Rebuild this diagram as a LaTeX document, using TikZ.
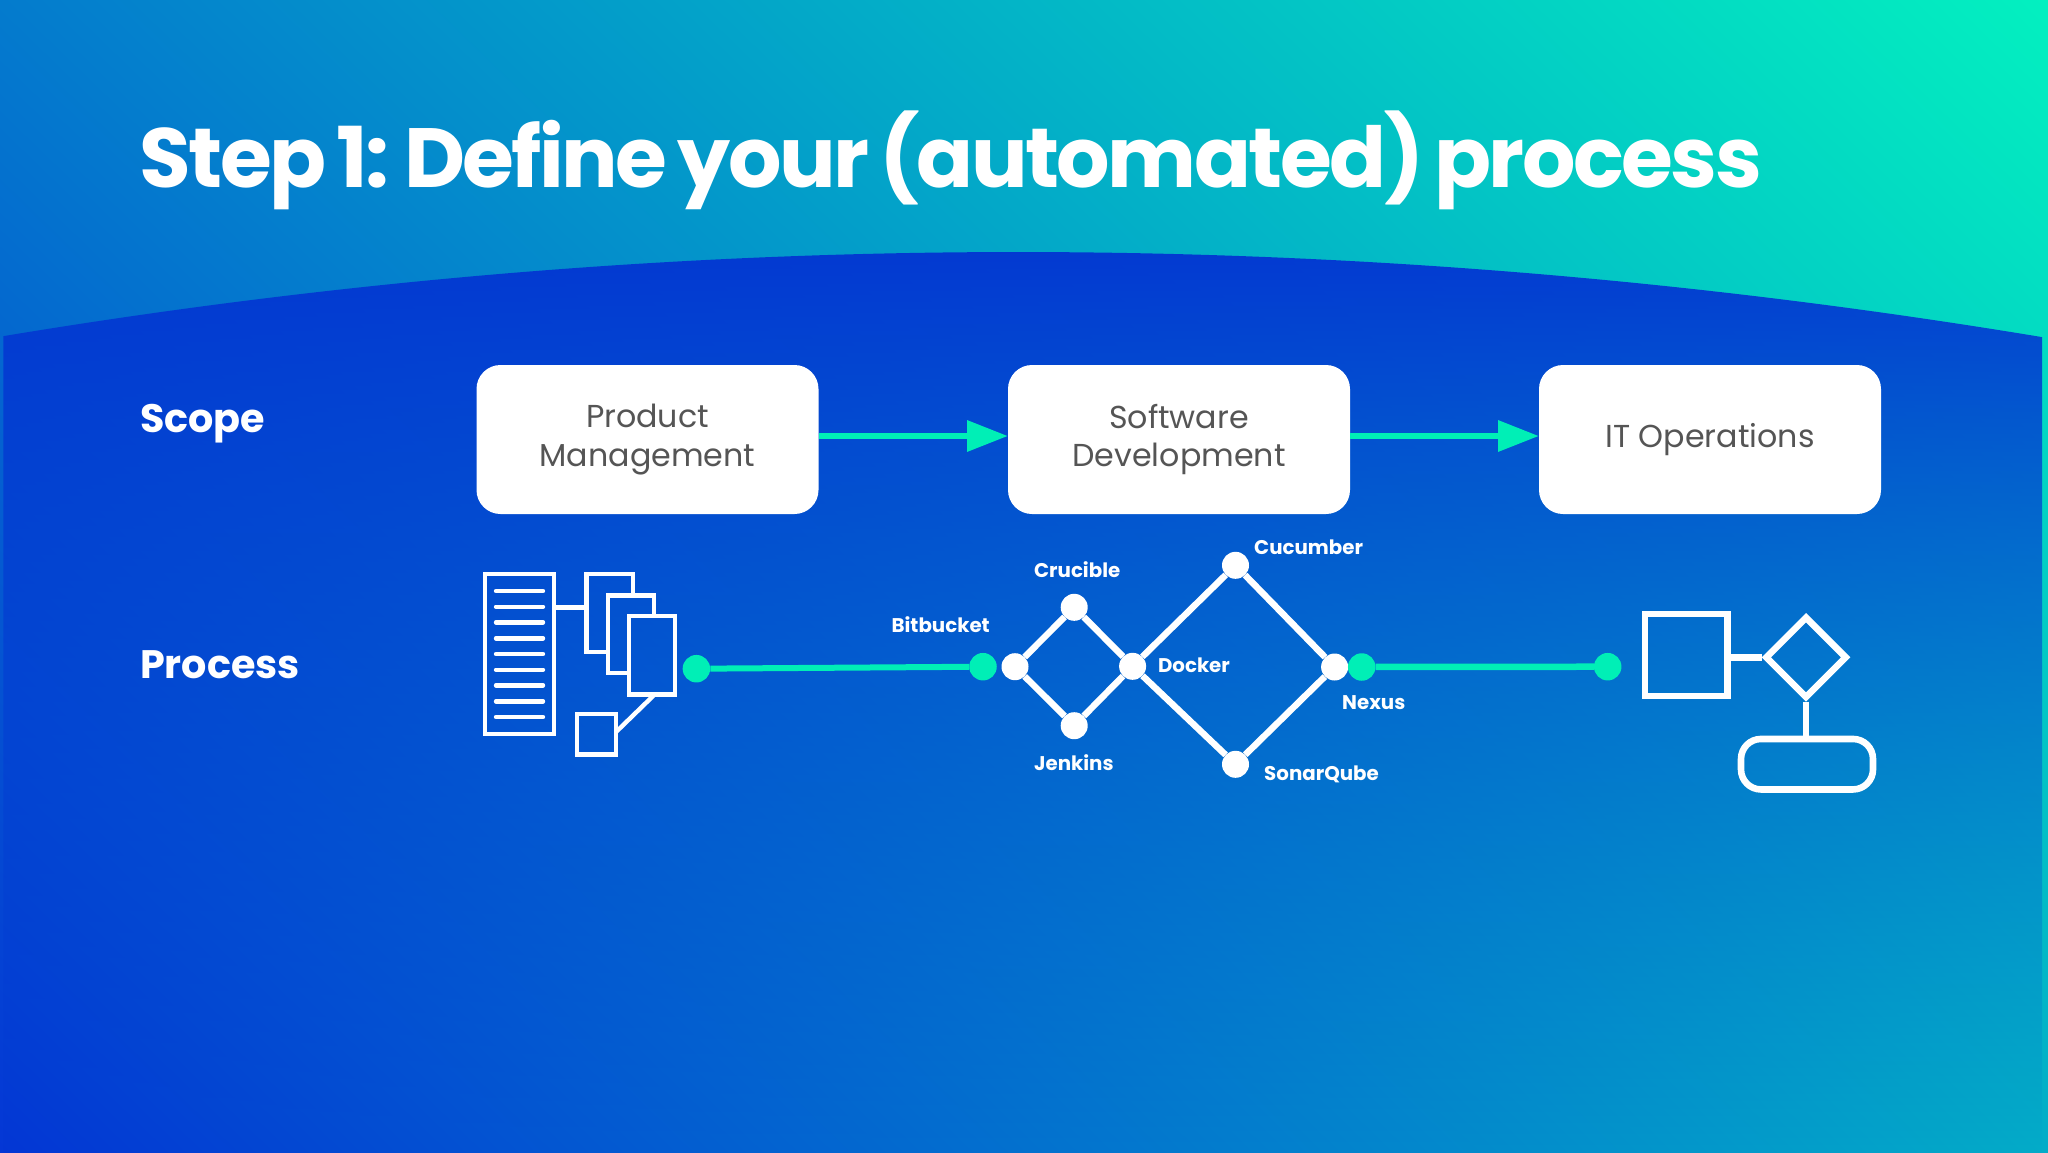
\documentclass[tikz,border=0pt]{standalone}
\usepackage{fontspec}
\setmainfont{Poppins}[BoldFont={Poppins Bold}]
\newfontfamily\titlefont{Poppins Bold}[LetterSpace=-3,WordSpace=0.65]
\usetikzlibrary{arrows.meta,shapes.geometric,calc,fadings}
\definecolor{bgstart}{HTML}{0437D5}
\definecolor{bgend}{HTML}{03F0C0}
\definecolor{domeblue}{HTML}{0336D2}
\definecolor{mint}{HTML}{00EFB6}
\definecolor{boxtext}{HTML}{555555}
\pgfdeclareverticalshading{bgsh}{3000pt}{
 color(0pt)=(bgstart);
 color(276pt)=(bgstart);
 color(2524pt)=(bgend);
 color(2800pt)=(bgend)}
\tikzfading[name=domefade,top color=transparent!0,bottom color=transparent!100]
\tikzset{
 x=1pt,y=-1pt,
 lbl/.style={text=white,font=\bfseries\fontsize{19.8}{24}\selectfont,anchor=base west,inner sep=0pt},
 side/.style={text=white,font=\bfseries\fontsize{39.7}{44}\selectfont,anchor=base west,inner sep=0pt},
 box/.style={fill=white,rounded corners=24pt,minimum width=342pt,minimum height=149pt,inner sep=0pt,align=center,text=boxtext,font=\fontsize{31.7}{38.5}\selectfont},
 flow/.style={draw=mint,line width=6.5pt,-{Triangle[length=41pt,width=30pt]}},
 gdot/.style={circle,fill=mint,minimum size=27.5pt,inner sep=0pt},
 wdot/.style={circle,fill=white,minimum size=27pt,inner sep=0pt},
 wline/.style={draw=white,line width=6.5pt},
 icon/.style={draw=white,line width=4.4pt,inner sep=0pt,miter limit=10},
 icon2/.style={draw=white,line width=6.6pt,inner sep=0pt},
 rule/.style={draw=white,line width=4.4pt,line cap=round},
}
\begin{document}
\begin{tikzpicture}
\useasboundingbox (0,0) rectangle (2048,1152);
\begin{scope}
 \clip (0,0) rectangle (2048,1152);
 \node[inner sep=0pt,rotate=-44] at (1024,576) {\pgfuseshading{bgsh}};
\end{scope}
\fill[domeblue,path fading=domefade] (4,334) .. controls (684,221) and (1364,222) .. (2044,335) -- (2044,1152) -- (4,1152) -- cycle;
\node[text=white,font=\titlefont\fontsize{84}{96}\selectfont,anchor=base west,inner sep=0pt] (title) at (139,187) {Step 1: Define your (automated) process};
\node[side] (scope) at (140,432) {Scope};
\node[side] (process) at (140,678) {Process};

\node[box] (pm) at (647.5,439.5) {Product\\Management};
\node[box] (sd) at (1179,439.5) {Software\\Development};
\node[box] (it) at (1710,439.5) {IT Operations};
\coordinate (pmr) at (818.5,436);\coordinate (sdl) at (1008,436);
\coordinate (sdr) at (1350,436);\coordinate (itl) at (1539,436);
\draw[flow] (pmr) -- (sdl);
\draw[flow] (sdr) -- (itl);

% left icon
\node[icon,minimum width=69pt,minimum height=160pt] (doc) at (519.5,654) {};
\foreach \yy in {591,606.7,622.3,638.3,654,669.7,685.3,701.3,717}
  \draw[rule] (496,\yy) -- (543,\yy);
\coordinate (cardtwo) at (586.5,607.3);
\coordinate (docr) at (554,607.3);
\draw[icon] (docr) -- (cardtwo);
\draw[icon] (606,652) -- (586.5,652) -- (586.5,574) -- (633,574) -- (633,595.5);
\draw[icon] (627,673) -- (608,673) -- (608,595.5) -- (654,595.5) -- (654,616);
\node[icon,minimum width=46pt,minimum height=78.5pt] (cardthree) at (652,655.3) {};
\node[icon,minimum width=39pt,minimum height=40.5pt] (small) at (596.5,734.3) {};
\coordinate (cardb) at (654.6,694.5);
\coordinate (smallr) at (616,732);
\draw[icon] (cardb) -- (smallr);

% green and network
\node[gdot] (ga) at (696.4,668.7) {};
\node[gdot] (gb) at (983,666.7) {};
\draw[mint,line width=6pt] (ga) -- (gb);
\node[wdot] (s) at (1015,666.7) {};
\node[wdot] (cr) at (1074.2,607.3) {};
\node[wdot] (je) at (1074.2,725.7) {};
\node[wdot] (dk) at (1132.6,666.3) {};
\node[wdot] (cu) at (1235.5,565.3) {};
\node[wdot] (so) at (1235.5,764.3) {};
\node[wdot] (ne) at (1334.6,667) {};
\draw[wline] (s) -- (cr) -- (dk) -- (je) -- (s);
\draw[wline] (dk) -- (cu) -- (ne) -- (so) -- (dk);
\node[gdot] (gc) at (1361.7,667) {};
\node[gdot] (gd) at (1607.7,666.7) {};
\draw[mint,line width=6.5pt] (gc) -- (gd);
\node[lbl] (lbit) at (891.4,632) {Bitbucket};
\node[lbl] (lcru) at (1033.9,577) {Crucible};
\node[lbl] (lcuc) at (1254,554) {Cucumber};
\node[lbl] (ldoc) at (1157.8,672) {Docker};
\node[lbl] (lnex) at (1342,709.3) {Nexus};
\node[lbl] (ljen) at (1033.9,770) {Jenkins};
\node[lbl] (lson) at (1264,780.7) {SonarQube};

% right icon
\node[icon2,minimum width=82.7pt,minimum height=82pt] (sq) at (1686.3,655) {};
\node[icon2,diamond,minimum width=82pt,minimum height=82pt,aspect=1] (di) at (1806,657.3) {};
\node[icon2,rounded corners=20pt,minimum width=132pt,minimum height=50.5pt] (pill) at (1807,764.2) {};
\draw[icon2] (sq.east |- di.west) -- (di.west);
\draw[icon2] (di.south) -- (pill.north -| di.south);
\end{tikzpicture}
\end{document}
